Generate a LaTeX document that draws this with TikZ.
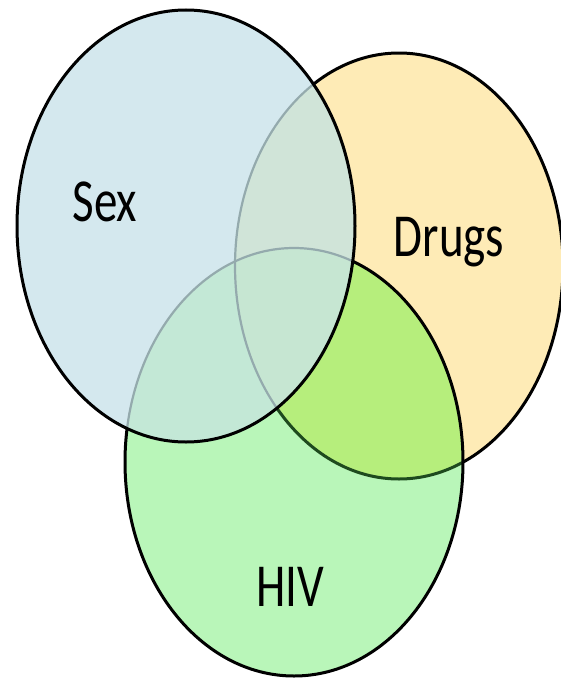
\documentclass[tikz,border=0pt]{standalone}
\usepackage{fontspec}
\setmainfont{Carlito}
\definecolor{sexC}{HTML}{D4E8EE}
\definecolor{drugC}{HTML}{FEEBB6}
\definecolor{hivC}{HTML}{B9F6B9}
\definecolor{dhC}{HTML}{B6EE7C}
\definecolor{sdC}{HTML}{D0E4D8}
\definecolor{shC}{HTML}{C3E8D6}
\definecolor{allC}{HTML}{C6E6D2}
\definecolor{faintC}{HTML}{94AAAD}
\definecolor{dgC}{HTML}{1E4A1E}
\tikzset{
  rS/.style={x radius=169pt, y radius=216pt},
  rD/.style={x radius=164pt, y radius=213pt},
  rH/.style={x radius=169pt, y radius=214pt},
  ln/.style={draw=black, line width=3pt},
  faint/.style={draw=faintC, line width=2.2pt},
  lbl/.style={font=\fontsize{47}{50}\selectfont, text=black, anchor=base, yscale=1.3, inner sep=0pt}
}
\begin{document}
\begin{tikzpicture}[x=1pt,y=-1pt]
\useasboundingbox (0,0) rectangle (561,680);
\fill[white] (0,0) rectangle (561,680);
\coordinate (S) at (186,226);
\coordinate (D) at (399,266);
\coordinate (H) at (294,462);
% Drugs
\fill[drugC] (D) ellipse[rD];
\draw[ln] (D) ellipse[rD];
% HIV
\fill[hivC] (H) ellipse[rH];
\begin{scope}
  \clip (D) ellipse[rD];
  \fill[dhC] (H) ellipse[rH];
\end{scope}
\begin{scope}
  \clip (H) ellipse[rH];
  \draw[ln, draw=dgC] (D) ellipse[rD];
\end{scope}
\draw[ln] (H) ellipse[rH];
% Sex
\begin{scope}
  \clip (S) ellipse[rS];
  \fill[sexC] (S) ellipse[rS];
  \fill[sdC] (D) ellipse[rD];
  \fill[shC] (H) ellipse[rH];
  \begin{scope}
    \clip (D) ellipse[rD];
    \fill[allC] (H) ellipse[rH];
  \end{scope}
  \draw[faint] (D) ellipse[rD];
  \draw[faint] (H) ellipse[rH];
\end{scope}
\draw[ln] (S) ellipse[rS];
% labels
\node[lbl] (sexL) at (105,221) {Sex};
\node[lbl] (drugL) at (449,256) {Drugs};
\node[lbl] (hivL) at (290,606) {HIV};
\end{tikzpicture}
\end{document}
